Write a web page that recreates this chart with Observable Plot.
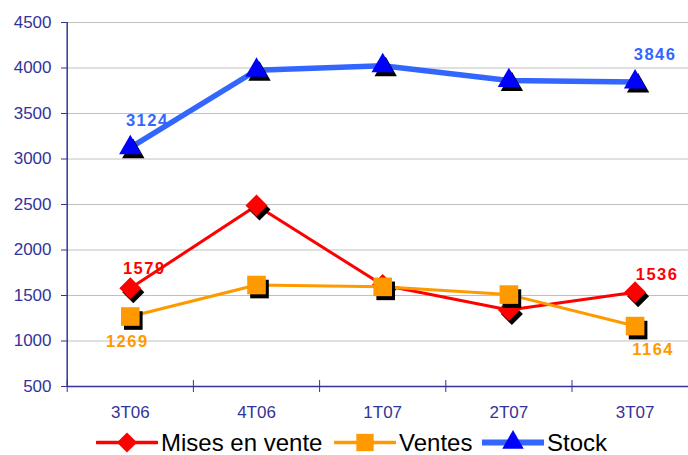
<!DOCTYPE html>
<html><head><meta charset="utf-8">
<script src="https://cdn.jsdelivr.net/npm/d3@7"></script>
<script src="https://cdn.jsdelivr.net/npm/@observablehq/plot@0.6"></script>
<style>
body{margin:0;background:#fff;width:688px;height:455px;overflow:hidden;font-family:"Liberation Sans",Arial,sans-serif}
#legend{position:relative;height:25px;width:688px}
.item{position:absolute;top:0;height:25px;display:flex;align-items:center}
.item span{font-size:24px;color:#000;margin-left:3px;line-height:25px}
</style></head><body>
<div id="chart"></div>
<div id="legend"></div>
<script>
const categories = ["3T06", "4T06", "1T07", "2T07", "3T07"];
const misesEnVente = [1579, 2488, 1615, 1340, 1536];
const ventes = [1269, 1615, 1595, 1510, 1164];
const stock = [3124, 3975, 4025, 3862, 3846];
const seriesNames = ["Mises en vente", "Ventes", "Stock"];
const yTicks = [500, 1000, 1500, 2000, 2500, 3000, 3500, 4000, 4500];
const labelIdx = [0, 4];

const rows = (name, vals) => vals.map((v, i) => ({series: name, i, cat: categories[i], value: v}));
const mev = rows(seriesNames[0], misesEnVente);
const ven = rows(seriesNames[1], ventes);
const sto = rows(seriesNames[2], stock);
const boundaries = categories.map((_, i) => i - 0.5).concat([categories.length - 0.5]);

const RED = "#FF0000", ORANGE = "#FF9900", BLUE = "#3366FF", TRI = "#0000FF";

function seriesMarks(data, color, width, symbol, r, fillColor) {
  return [
    Plot.line(data, {x: "i", y: "value", stroke: color, strokeWidth: width, strokeLinejoin: "round"}),
    Plot.dot(data, {x: "i", y: "value", symbol, r, fill: "black", stroke: null, dx: 3, dy: 4}),
    Plot.dot(data, {x: "i", y: "value", symbol, r, fill: fillColor, stroke: null})
  ];
}
function label(data, idx, color, dx, dy) {
  return Plot.text(data.filter(d => d.i === idx), {
    x: "i", y: "value", text: d => String(d.value), fill: color,
    fontWeight: "bold", fontSize: 16.5, dx, dy
  });
}

const chart = Plot.plot({
  width: 688,
  height: 430,
  marginTop: 22,
  marginBottom: 44,
  marginLeft: 67,
  marginRight: 0,
  style: {fontFamily: "'Liberation Sans', Arial, sans-serif", fontSize: "17px", color: "#333399", background: "white"},
  x: {domain: [-0.5, categories.length - 0.5], range: [66.7, 697.7]},
  y: {domain: [500, 4500]},
  marks: [
    Plot.gridY(yTicks.slice(1), {stroke: "#C0C0C0", strokeOpacity: 1, strokeWidth: 1}),
    Plot.ruleX([-0.5], {stroke: "#333399", strokeWidth: 1.5}),
    Plot.ruleY([500], {stroke: "#333399", strokeWidth: 1.5}),
    Plot.ruleX(boundaries, {x: d => d, y1: 500, y2: 500, insetTop: -6, insetBottom: -6, stroke: "#333399", strokeWidth: 1}),
    Plot.axisY({ticks: yTicks, tickSize: 6, tickPadding: 10, tickFormat: d => String(d), label: null}),
    Plot.axisX({ticks: categories.map((_, i) => i), tickFormat: i => categories[i], tickSize: 0, tickPadding: 19, label: null}),
    ...seriesMarks(mev, RED, 3, "diamond2", 9.9, RED),
    ...seriesMarks(ven, ORANGE, 3, "square", 10.5, ORANGE),
    ...seriesMarks(sto, BLUE, 5.5, "triangle", 8.3, TRI),
    label(sto, labelIdx[0], BLUE, 17, -27),
    label(sto, labelIdx[1], BLUE, 20, -27),
    label(mev, labelIdx[0], RED, 14, -20),
    label(mev, labelIdx[1], RED, 22, -18),
    label(ven, labelIdx[0], ORANGE, -3, 25),
    label(ven, labelIdx[1], ORANGE, 18, 24)
  ]
});
d3.select(chart).selectAll("g[aria-label='text'] text").style("letter-spacing", "1.5px");
document.getElementById("chart").appendChild(chart);

// Legend
const legendItems = [
  {name: seriesNames[0], color: RED, width: 3.5, symbol: d3.symbolDiamond2, size: 260, fill: RED, left: 96},
  {name: seriesNames[1], color: ORANGE, width: 3.5, symbol: d3.symbolSquare, size: 300, fill: ORANGE, left: 334},
  {name: seriesNames[2], color: BLUE, width: 6, symbol: d3.symbolTriangle, size: 200, fill: TRI, left: 482}
];
const legend = d3.select("#legend");
for (const it of legendItems) {
  const item = legend.append("div").attr("class", "item").style("left", it.left + "px");
  const svg = item.append("svg").attr("width", 62).attr("height", 25);
  svg.append("line").attr("x1", 1).attr("x2", 61).attr("y1", 12.5).attr("y2", 12.5)
    .attr("stroke", it.color).attr("stroke-width", it.width).attr("stroke-linecap", "round");
  svg.append("path").attr("d", d3.symbol(it.symbol, it.size)()).attr("transform", "translate(31,12.5)").attr("fill", it.fill);
  item.append("span").text(it.name);
}
</script>
</body></html>
